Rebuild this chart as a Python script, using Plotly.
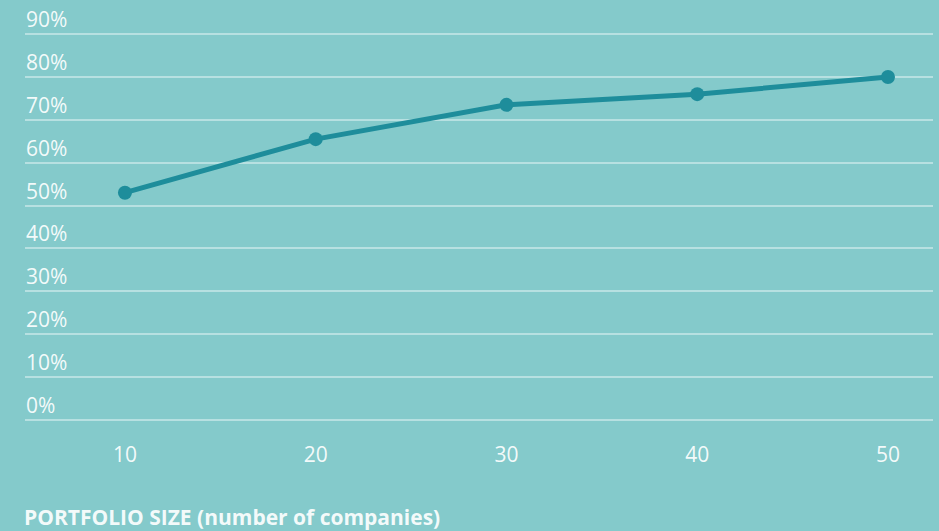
import plotly.graph_objects as go

portfolio_size = [10, 20, 30, 40, 50]
success_pct = [53, 65.5, 73.5, 76, 80]
y_tick_vals = [0, 10, 20, 30, 40, 50, 60, 70, 80, 90]
y_tick_text = ["0%", "10%", "20%", "30%", "40%", "50%", "60%", "70%", "80%", "90%"]
x_title = "PORTFOLIO SIZE (number of companies)"

BG = "#84CACB"
LINE = "#1E8D9B"
TXT = "rgba(255,255,255,0.92)"
GRID = "rgba(255,255,255,0.42)"

fig = go.Figure()
fig.add_trace(go.Scatter(
    x=portfolio_size, y=success_pct, mode="lines+markers",
    line=dict(color=LINE, width=5),
    marker=dict(color=LINE, size=14),
    showlegend=False, hoverinfo="skip",
))

annotations = [dict(
    text=t, x=0, xref="paper", xanchor="left", xshift=-1,
    y=v, yref="y", yanchor="bottom", yshift=-1,
    showarrow=False, font=dict(size=21, color=TXT, family="Open Sans"),
) for v, t in zip(y_tick_vals, y_tick_text)]

annotations.append(dict(
    text="<b>" + x_title + "</b>", x=0, xref="paper", xanchor="left",
    xshift=-3,
    y=-0.2436, yref="paper", yanchor="middle", showarrow=False,
    font=dict(size=21, color=TXT, family="Open Sans"),
))

fig.update_layout(
    width=939, height=531,
    margin=dict(l=25, r=6, t=32, b=109),
    paper_bgcolor=BG, plot_bgcolor=BG,
    font=dict(family="Open Sans", color=TXT, size=21),
    xaxis=dict(
        range=[4.76, 52.36], tickvals=portfolio_size,
        ticktext=[str(v) for v in portfolio_size],
        showgrid=False, zeroline=False, showline=False,
        ticklabelstandoff=18,
        tickfont=dict(size=21, color=TXT),
    ),
    yaxis=dict(
        range=[-0.5, 90.5], tickvals=y_tick_vals,
        showticklabels=False,
        showgrid=True, gridcolor=GRID, gridwidth=2,
        zeroline=False, showline=False,
    ),
    annotations=annotations,
)

fig.write_html("out.html")
